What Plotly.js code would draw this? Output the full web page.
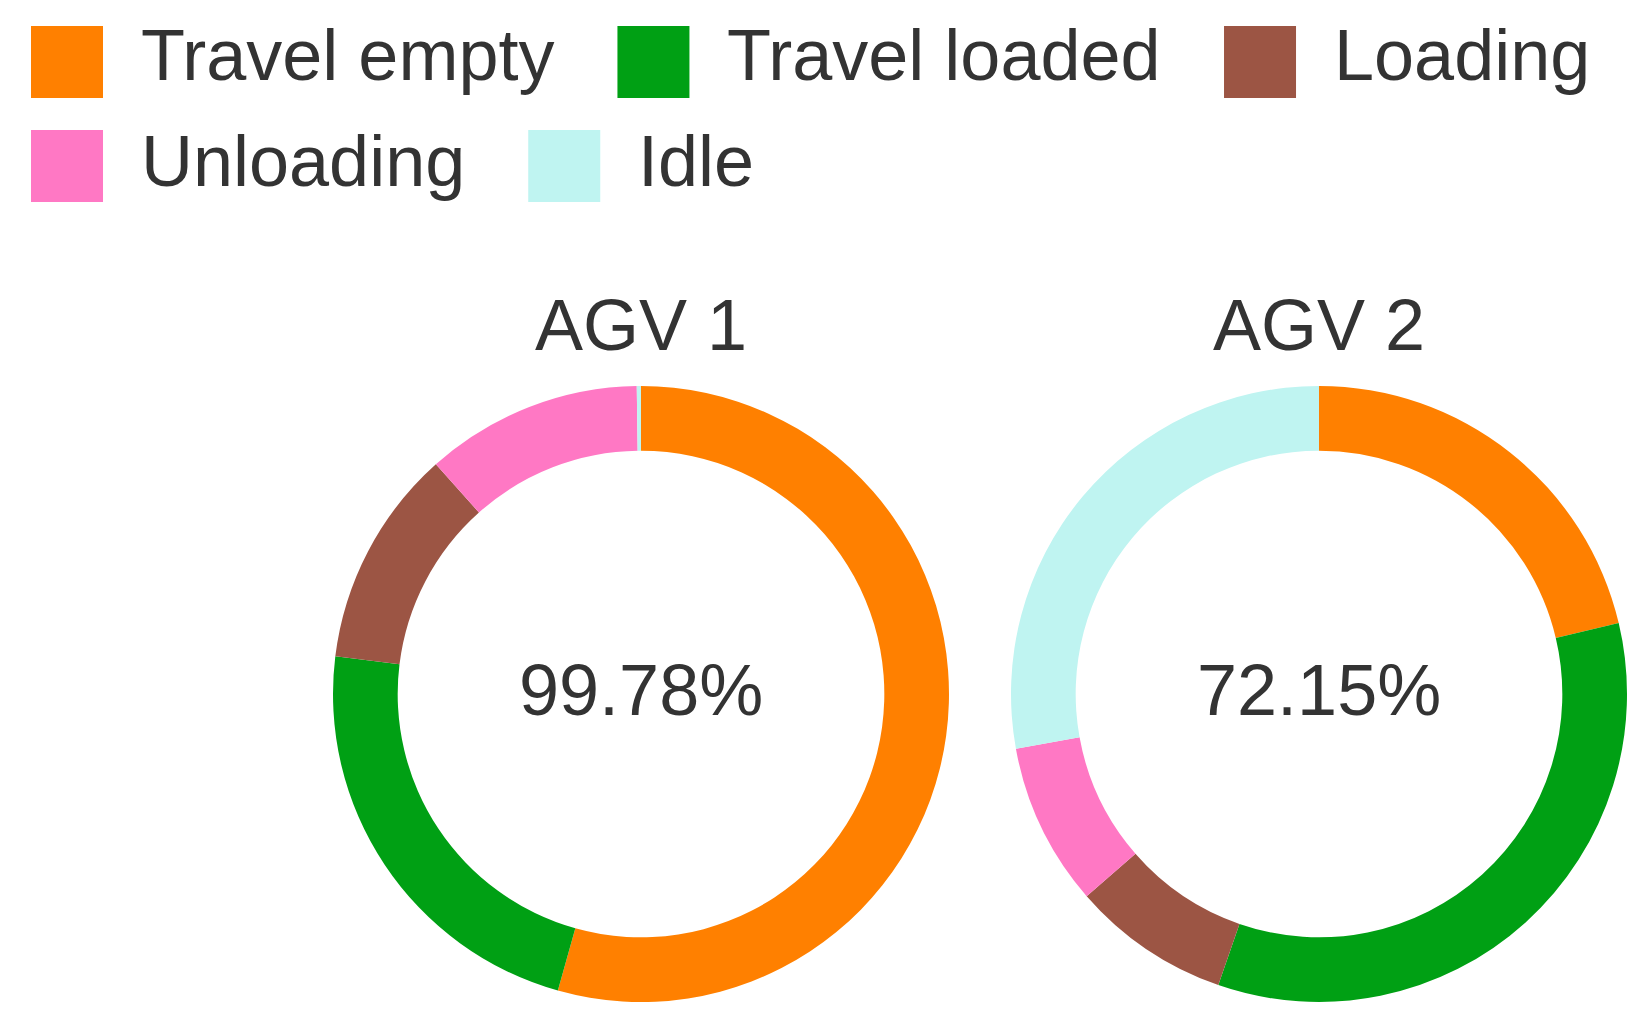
<!DOCTYPE html>
<html>
<head>
<meta charset="utf-8">
<script src="https://cdn.plot.ly/plotly-3.0.1.min.js"></script>
<style>
  html, body {margin: 0; padding: 0; background: #fff;}
  #chart {width: 1644px; height: 1022px;}
</style>
</head>
<body>
<div id="chart"></div>
<script>
const categories = ["Travel empty", "Travel loaded", "Loading", "Unloading", "Idle"];
const agvNames = ["AGV 1", "AGV 2"];
const agv1Values = [54.35, 22.6, 11.45, 11.38, 0.22];
const agv2Values = [21.3, 34.0, 8.3, 8.55, 27.85];

const sliceColors = ["#FF8000", "#00A014", "#9C5544", "#FF78C4", "#BFF4F1"];

const W = 1644, H = 1022;
const fontFam = "Liberation Sans, Arial, sans-serif";
const textColor = "#333333";

// donut geometry in px
const pieR = 308;
const pieCY = 694;
const pieCX = [641, 1319];
const titleY = 325;
const centerTextY = 690;

function px(x) { return x / W; }
function py(y) { return 1 - y / H; }

const allValues = [agv1Values, agv2Values];
const traces = [];
const annotations = [];

allValues.forEach(function(vals, i) {
    traces.push({
        type: "pie",
        labels: categories,
        values: vals,
        hole: 0.79,
        sort: false,
        direction: "clockwise",
        rotation: 0,
        textinfo: "none",
        hoverinfo: "label+percent",
        showlegend: false,
        marker: {colors: sliceColors, line: {width: 0}},
        domain: {x: [px(pieCX[i] - pieR), px(pieCX[i] + pieR)],
                 y: [py(pieCY + pieR), py(pieCY - pieR)]}
    });
    let idle = vals[categories.indexOf("Idle")];
    annotations.push({
        text: (100 - idle).toFixed(2) + "%",
        x: px(pieCX[i]), y: py(centerTextY), xref: "paper", yref: "paper",
        xanchor: "center", yanchor: "middle", showarrow: false,
        font: {size: 72, family: fontFam, color: textColor}
    });
    annotations.push({
        text: agvNames[i],
        x: px(pieCX[i]), y: py(titleY), xref: "paper", yref: "paper",
        xanchor: "center", yanchor: "middle", showarrow: false,
        font: {size: 72, family: fontFam, color: textColor}
    });
});

// legend drawn by hand so the swatches can be big
const ctx = document.createElement("canvas").getContext("2d");
ctx.font = "72px " + fontFam;
const shapes = [];
const legRowY = [62, 166];
const legTextShift = [-7, -5];
const sw = 72, txtGap = 37, itemGap = 64, legX0 = 31, legMaxX = 1610;
let lx = legX0, row = 0;
categories.forEach(function(cat, k) {
    let tw = ctx.measureText(cat).width;
    if (lx + sw + txtGap + tw > legMaxX) { row += 1; lx = legX0; }
    let cy = legRowY[row];
    shapes.push({
        type: "rect", xref: "paper", yref: "paper",
        x0: px(lx), x1: px(lx + sw), y0: py(cy + sw / 2), y1: py(cy - sw / 2),
        fillcolor: sliceColors[k], line: {width: 0}
    });
    annotations.push({
        text: cat, x: px(lx + sw + txtGap), y: py(cy + legTextShift[row]),
        xref: "paper", yref: "paper",
        xanchor: "left", yanchor: "middle", showarrow: false, borderpad: 0,
        font: {size: 72, family: fontFam, color: textColor}
    });
    lx += sw + txtGap + tw + itemGap;
});

const layout = {
    width: W, height: H,
    margin: {l: 0, r: 0, t: 0, b: 0},
    paper_bgcolor: "#ffffff",
    showlegend: false,
    annotations: annotations,
    shapes: shapes
};

Plotly.newPlot("chart", traces, layout, {displayModeBar: false, staticPlot: true});
</script>
</body>
</html>
